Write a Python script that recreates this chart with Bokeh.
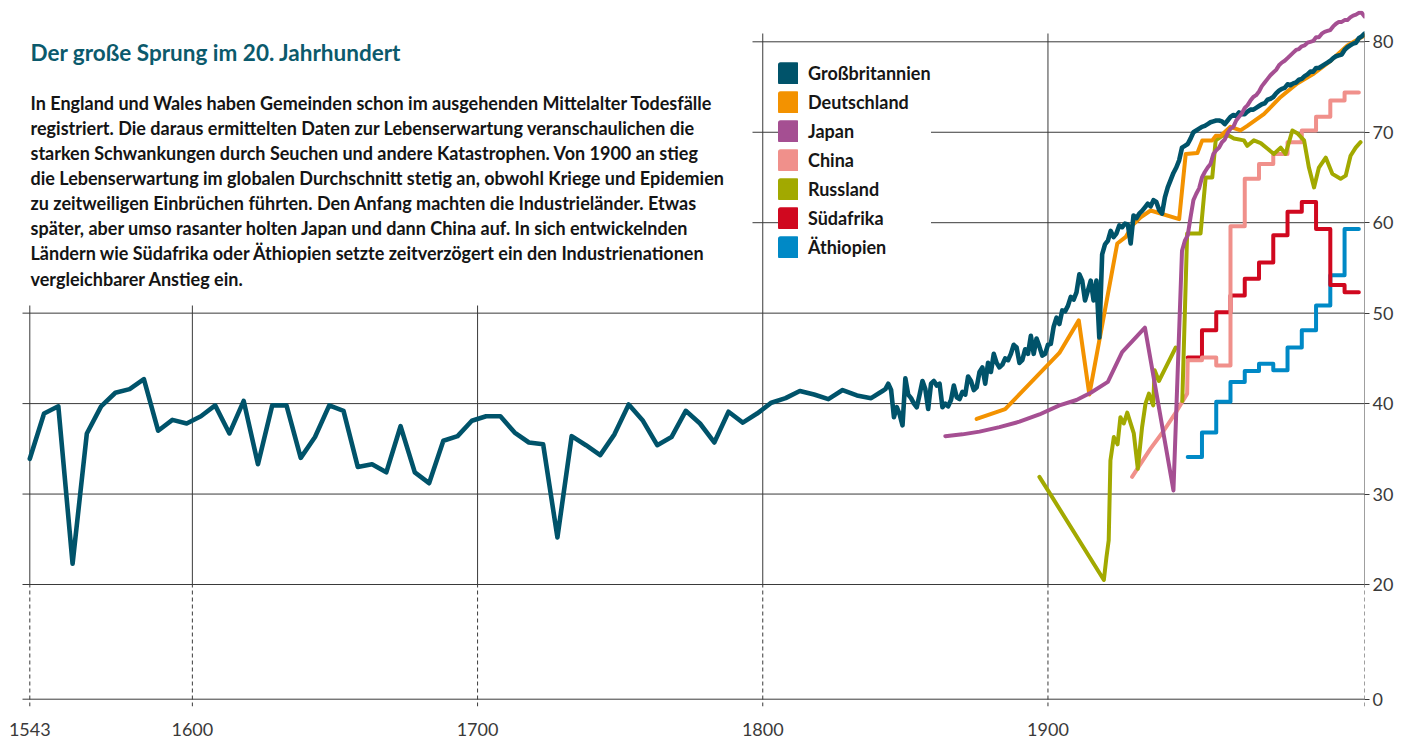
import math
from bokeh.plotting import figure
from bokeh.models import (LinearAxis, FixedTicker, CustomJSTickFormatter, Legend,
                          LegendItem, Label, Range1d)
from bokeh.embed import file_html
from bokeh.resources import INLINE

# ---------------- data ----------------
gb_years_early = list(range(1543, 1839, 5))
gb_early = [33.9, 38.9, 39.7, 22.3, 36.7, 39.7, 41.2, 41.6, 42.7, 37.0,
            38.2, 37.8, 38.6, 39.8, 36.7, 40.3, 33.3, 39.8, 39.8, 34.0,
            36.3, 39.8, 39.2, 33.0, 33.3, 32.4, 37.5, 32.4, 31.2, 35.9,
            36.4, 38.1, 38.6, 38.6, 36.8, 35.7, 35.5, 25.2, 36.4, 35.4,
            34.3, 36.6, 39.9, 38.1, 35.4, 36.3, 39.2, 37.8, 35.7, 39.1,
            37.9, 38.9, 40.1, 40.6, 41.4, 41.0, 40.5, 41.5, 40.9, 40.6]
gb_years_annual = list(range(1841, 2012))
gb_annual = [41.2, 41.4, 41.6, 42.2, 41.5, 38.5, 39.6, 38.8, 37.6, 42.8,
             41.0, 40.6, 40.0, 39.6, 41.0, 42.5, 41.6, 39.4, 42.2, 42.5,
             42.0, 42.2, 39.6, 40.0, 39.7, 40.4, 42.0, 40.7, 40.5, 41.3,
             41.0, 43.0, 42.5, 41.5, 41.8, 43.5, 44.0, 42.2, 44.5, 43.5,
             45.5, 44.5, 44.0, 44.3, 45.0, 44.8, 45.5, 46.5, 46.2, 44.5,
             44.8, 46.0, 45.5, 47.5, 45.5, 47.2, 46.3, 45.3, 45.5, 46.5,
             46.6, 48.5, 49.5, 48.8, 50.3, 50.2, 50.8, 51.8, 51.5, 52.3,
             54.3, 53.6, 51.4, 52.5, 53.6, 51.4, 53.6, 47.3, 56.5, 57.6,
             58.0, 59.1, 58.4, 58.8, 59.7, 59.5, 59.9, 59.8, 57.7, 60.8,
             60.5, 61.0, 61.3, 61.7, 62.1, 61.8, 62.5, 62.3, 61.4, 61.0,
             62.8, 63.9, 64.7, 65.5, 66.1, 66.9, 68.3, 68.5, 68.7, 69.3,
             70.0, 70.2, 70.4, 70.6, 70.7, 70.9, 71.1, 71.2, 71.3, 71.3,
             71.2, 70.9, 71.3, 71.7, 71.9, 71.8, 72.2, 72.0, 72.0, 72.3,
             72.5, 72.5, 72.7, 72.9, 73.1, 73.2, 73.6, 73.7, 73.9, 74.3,
             74.6, 74.8, 74.9, 75.3, 75.2, 75.4, 75.5, 75.8, 75.9, 76.2,
             76.4, 76.7, 76.7, 77.1, 77.1, 77.3, 77.5, 77.7, 77.9, 78.2,
             78.4, 78.5, 78.6, 79.1, 79.4, 79.6, 79.8, 79.9, 80.4, 80.6, 80.9]

de_years = [1875, 1885, 1904, 1910.8, 1914.5, 1924.3, 1927.2, 1929.6, 1932.5, 1936,
            1946, 1948.3, 1952.4, 1954.1, 1957.6, 1958.8, 1960.5, 1964, 1967.5, 1969.9,
            1975.7, 1981.6, 1987.4, 1993.3, 1999.1, 2005, 2011]
de_values = [38.3, 39.4, 45.6, 49.2, 41.0, 57.7, 58.4, 59.7, 60.6, 61.35,
             60.4, 67.6, 67.7, 69.1, 69.1, 69.6, 69.6, 70.6, 70.2, 70.7,
             72.0, 73.9, 75.4, 76.5, 77.9, 79.6, 80.7]

jp_years = [1864, 1870, 1876, 1883, 1890, 1897, 1904, 1910, 1915, 1921, 1926, 1934, 1944] + list(range(1947, 2012))
jp_values = [36.4, 36.6, 36.9, 37.4, 38.0, 38.8, 39.8, 40.4, 41.2, 42.4, 45.7, 48.4, 30.4,
             56.9, 58.0, 58.6, 60.6, 62.5, 63.2, 63.8, 65.0, 65.6, 66.1,
             66.5, 67.6, 68.0, 68.3, 68.9, 69.2, 69.9, 70.4, 70.6, 71.3,
             71.7, 72.1, 72.7, 73.0, 73.5, 73.9, 74.1, 74.5, 75.1, 75.5,
             75.9, 76.3, 76.6, 76.9, 77.4, 77.7, 77.9, 78.2, 78.5, 78.8,
             79.1, 79.2, 79.5, 79.6, 79.9, 80.0, 80.1, 80.5, 80.5, 80.9,
             81.1, 81.2, 81.3, 81.7, 82.0, 82.2, 82.2, 82.4, 82.4, 82.7,
             82.9, 83.0, 83.2, 83.2, 82.8]

ru_years_1 = [1897, 1900, 1919.6, 1920.5, 1921.3, 1921.9, 1923.1, 1924.4, 1925.4, 1926.6,
              1927.8, 1930.1, 1931.5, 1933.0, 1934.2, 1935.4, 1936.9, 1937.4, 1938.9, 1941.3, 1944.8]
ru_values_1 = [31.9, 30.4, 20.5, 23.0, 24.9, 33.7, 36.3, 35.5, 38.5, 37.8,
               39.0, 36.7, 32.8, 37.4, 40.0, 41.1, 39.8, 43.7, 42.5, 44.0, 46.2]
ru_years_2 = [1947.1, 1948.8, 1953.5, 1955.3, 1957.6, 1958.8, 1961.1, 1963.5, 1965.2, 1968.7,
              1969.9, 1972.2, 1974.6, 1976.9, 1979.2, 1981.6, 1983.3, 1985.7, 1987.4, 1989.8,
              1991.5, 1993.3, 1995.0, 1997.4, 1999.7, 2002.6, 2004.4, 2006.1, 2007.9, 2009.6]
ru_values_2 = [40.3, 58.8, 58.8, 65.0, 65.0, 69.1, 69.6, 69.6, 69.3, 69.1,
               68.5, 69.1, 68.8, 68.2, 67.6, 68.3, 67.6, 70.2, 69.9, 69.1,
               66.1, 63.9, 66.1, 67.2, 65.4, 64.85, 65.2, 67.4, 68.3, 68.9]

# five-year periods (UN estimates), drawn as steps
period_starts = [1949, 1954, 1959, 1964, 1969, 1974, 1979, 1984, 1989, 1994, 1999, 2004]
period_end = 2009
cn_years_early = [1929.5, 1932.4, 1935.9, 1940.6, 1945.2, 1948.8]
cn_early = [31.9, 33.3, 35.0, 37.0, 39.2, 41.1]
cn_periods = [44.8, 45.1, 44.2, 59.6, 64.85, 66.5, 67.6, 68.9, 70.2, 71.7, 73.5, 74.4]
za_periods = [45.1, 48.1, 50.1, 51.95, 53.8, 55.6, 58.6, 61.2, 62.3, 59.3, 53.1, 52.3]
et_periods = [34.1, 36.8, 40.2, 42.4, 43.6, 44.4, 43.7, 46.2, 48.1, 50.85, 54.2, 59.3]

names = ["Großbritannien", "Deutschland", "Japan", "China", "Russland", "Südafrika", "Äthiopien"]
colors = ["#00536a", "#f39200", "#a54f92", "#f0908b", "#a2a900", "#d0081f", "#0089c6"]

x_ticks = [1543, 1600, 1700, 1800, 1900, 2011]
y_ticks = [7.32, 20, 30, 40, 50, 60, 70, 80]

title_text = "Der große Sprung im 20. Jahrhundert"
body_lines = [
    "In England und Wales haben Gemeinden schon im ausgehenden Mittelalter Todesfälle",
    "registriert. Die daraus ermittelten Daten zur Lebenserwartung veranschaulichen die",
    "starken Schwankungen durch Seuchen und andere Katastrophen. Von 1900 an stieg",
    "die Lebenserwartung im globalen Durchschnitt stetig an, obwohl Kriege und Epidemien",
    "zu zeitweiligen Einbrüchen führten. Den Anfang machten die Industrieländer. Etwas",
    "später, aber umso rasanter holten Japan und dann China auf. In sich entwickelnden",
    "Ländern wie Südafrika oder Äthiopien setzte zeitverzögert ein den Industrienationen",
    "vergleichbarer Anstieg ein.",
]

# ---------------- geometry (canvas pixels) ----------------
PX_X0, PX_PER_YR = 29.3, 2.852
PX_Y80, PX_PER_UNIT = 41.3, 9.045

def xd(px):
    return 1543 + (px - PX_X0) / PX_PER_YR

def yd(py):
    return 80 - (py - PX_Y80) / PX_PER_UNIT

W, H = 1400, 739
FL, FR, FT, FB = 20, 1364, 10, 706

p = figure(width=W, height=H, output_backend="svg", toolbar_location=None,
           x_range=Range1d(xd(FL), xd(FR)), y_range=Range1d(yd(FB), yd(FT)),
           min_border_left=FL, min_border_right=W - FR,
           min_border_top=FT, min_border_bottom=H - FB,
           x_axis_location=None, y_axis_location=None)
p.outline_line_color = None
p.grid.visible = False
p.background_fill_color = "white"

GRID = "#3a3a3a"
# horizontal grid lines
full_h = [y for y in y_ticks if y <= 50]
part_h = [y for y in y_ticks if y > 50]
p.segment(x0=[xd(22)] * len(full_h), x1=[2011] * len(full_h), y0=full_h, y1=full_h,
          line_color=GRID, line_width=1)
p.segment(x0=[xd(752)] * len(part_h), x1=[2011] * len(part_h), y0=part_h, y1=part_h,
          line_color=GRID, line_width=1)
# vertical grid lines
low_v = [t for t in x_ticks if t < 1800]
high_v = [t for t in x_ticks if t >= 1800]
p.segment(x0=low_v, x1=low_v, y0=[20] * len(low_v), y1=[yd(305)] * len(low_v),
          line_color=GRID, line_width=1)
p.segment(x0=high_v, x1=high_v, y0=[20] * len(high_v), y1=[yd(33)] * len(high_v),
          line_color=GRID, line_width=1)
p.segment(x0=x_ticks, x1=x_ticks, y0=[yd(FB)] * len(x_ticks), y1=[20] * len(x_ticks),
          line_color=GRID, line_width=1, line_dash="4 3")

# ---------------- series ----------------
def steps(starts, end, vals):
    xs, ys = [], []
    bounds = starts[1:] + [end]
    for s, e, v in zip(starts, bounds, vals):
        xs += [s, e]
        ys += [v, v]
    return xs, ys

et_x, et_y = steps(period_starts, period_end, et_periods)
za_x, za_y = steps(period_starts, period_end, za_periods)
cn_x, cn_y = steps(period_starts, period_end, cn_periods)
cn_x = cn_years_early + cn_x
cn_y = cn_early + cn_y
ru_x = ru_years_1 + [float("nan")] + ru_years_2
ru_y = ru_values_1 + [float("nan")] + ru_values_2
gb_x = gb_years_early + gb_years_annual
gb_y = gb_early + gb_annual

series = {
    "Äthiopien": (et_x, et_y, 4),
    "Südafrika": (za_x, za_y, 4),
    "China": (cn_x, cn_y, 4),
    "Russland": (ru_x, ru_y, 4),
    "Deutschland": (de_years, de_values, 4),
    "Großbritannien": (gb_x, gb_y, 4.6),
    "Japan": (jp_years, jp_values, 4),
}
col = dict(zip(names, colors))
for nm, (xs, ys, lw) in series.items():
    p.line(xs, ys, line_color=col[nm], line_width=lw, line_join="round", line_cap="round")

# ---------------- legend ----------------
items = []
nan = float("nan")
for nm in names:
    r = p.quad(left=[nan], right=[nan], top=[nan], bottom=[nan], fill_color=col[nm],
               line_color=col[nm], line_width=5, line_join="round")
    items.append(LegendItem(label=nm, renderers=[r]))
legend = Legend(items=items, location=(758, 448), orientation="vertical",
                glyph_width=20, glyph_height=22, label_height=22, label_width=10,
                spacing=7, padding=6, margin=0, label_standoff=10,
                label_text_font="Lato", label_text_font_style="bold",
                label_text_font_size="18px", label_text_color="#161616",
                border_line_color=None, background_fill_color="white",
                background_fill_alpha=1.0)
p.add_layout(legend, "center")

# ---------------- axes ----------------
xaxis = LinearAxis(ticker=FixedTicker(ticks=x_ticks), axis_line_color=None,
                   major_tick_line_color=None, minor_tick_line_color=None,
                   major_label_standoff=10, major_label_text_font="Lato",
                   major_label_text_font_size="18px", major_label_text_color="#3a3a3a")
p.add_layout(xaxis, "below")
yaxis = LinearAxis(ticker=FixedTicker(ticks=y_ticks),
                   formatter=CustomJSTickFormatter(code="return tick < 10 ? '0' : tick.toFixed(0);"),
                   axis_line_color=None, major_tick_in=0, major_tick_out=5,
                   major_tick_line_color=GRID, minor_tick_line_color=None,
                   major_label_standoff=3, major_label_text_font="Lato",
                   major_label_text_font_size="18px", major_label_text_color="#3a3a3a")
p.add_layout(yaxis, "right")

# ---------------- texts ----------------
p.add_layout(Label(x=xd(30), y=yd(52.3), text=title_text, text_font="Lato",
                   text_font_style="bold", text_font_size="22.5px", text_color="#0b5a6c",
                   text_baseline="alphabetic", text_align="left"))
for i, line in enumerate(body_lines):
    p.add_layout(Label(x=xd(30), y=yd(102.3 + 25.1 * i), text=line, text_font="Lato",
                       text_font_style="bold", text_font_size="18px", text_color="#141414",
                       text_baseline="alphabetic", text_align="left"))

open("out.html", "w").write(file_html(p, INLINE))
